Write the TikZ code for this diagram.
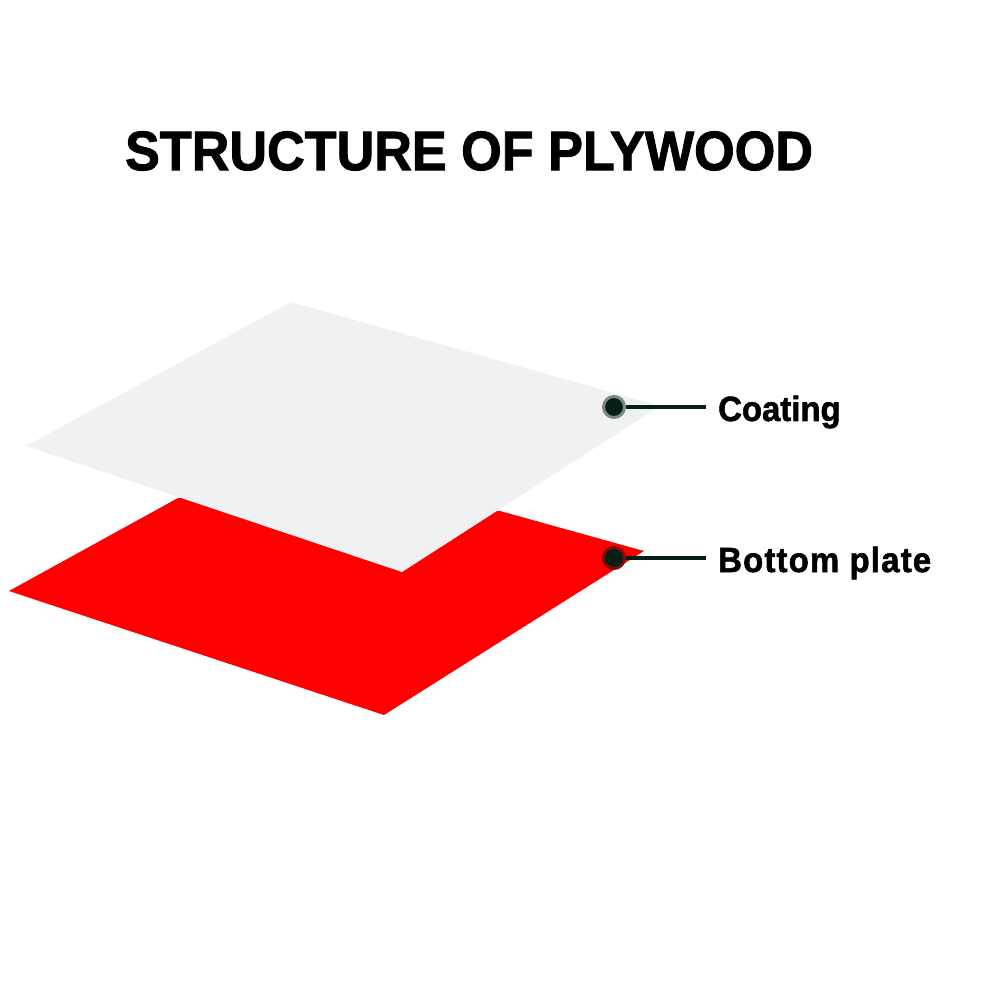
\documentclass[tikz,border=0pt]{standalone}
\usepackage{fontspec}
\setmainfont{Liberation Sans}[BoldFeatures={FakeBold=1.6,FakeStretch=0.94}]
\definecolor{coat}{RGB}{240,241,243}
\definecolor{leader}{RGB}{6,30,24}
\tikzset{
  dotmark/.style={circle,fill=leader,draw=#1,line width=3pt,inner sep=0pt,minimum size=21pt},
  partlabel/.style={anchor=west,inner sep=0pt,font=\bfseries\fontsize{35pt}{40pt}\selectfont},
}
\begin{document}
\begin{tikzpicture}[x=1pt,y=-1pt,scale=1]
\useasboundingbox (0,0) rectangle (1000,1000);
\fill[red] (9,591) -- (178,498) -- (500,511) -- (644,551) -- (384,715) -- cycle;
\fill[coat] (26,446) -- (291,302) -- (660,406) -- (402,572) -- cycle;
\node[font=\bfseries\fontsize{55.5pt}{60pt}\selectfont,inner sep=0pt] (title) at (469,151) {STRUCTURE OF PLYWOOD};
\node[dotmark={leader!50!coat}] (coatdot) at (614,407) {};
\node[dotmark={leader!55!red}] (platedot) at (614,558) {};
\node[partlabel] (coatlabel) at (718,412) {Coating};
\node[partlabel] (platelabel) at (718,563) {\addfontfeature{LetterSpace=3.4}Bottom plate};
\coordinate (coatend) at (706,407);
\coordinate (plateend) at (706,558);
\draw[leader,line width=3.2pt] (coatdot) -- (coatend);
\draw[leader,line width=3.2pt] (platedot) -- (plateend);
\end{tikzpicture}
\end{document}
